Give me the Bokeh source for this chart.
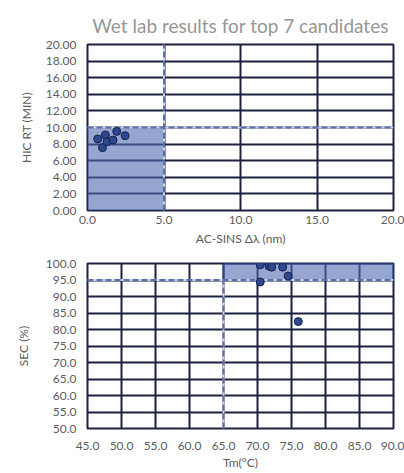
from bokeh.plotting import figure
from bokeh.models import FixedTicker, NumeralTickFormatter, Range1d
from bokeh.layouts import column
from bokeh.embed import file_html
from bokeh.resources import INLINE

# ---- data ----
acsins = [0.67, 1.17, 0.98, 1.28, 1.67, 1.91, 2.46]
hic = [8.62, 9.10, 7.57, 8.29, 8.49, 9.53, 9.01]
tm = [70.4, 71.7, 72.1, 73.7, 74.5, 70.4, 76.0]
sec = [99.6, 99.2, 98.9, 98.9, 96.2, 94.4, 82.4]

acsins_ticks = [0, 5, 10, 15, 20]
hic_ticks = [0, 2, 4, 6, 8, 10, 12, 14, 16, 18, 20]
tm_ticks = [45, 50, 55, 60, 65, 70, 75, 80, 85, 90]
sec_ticks = [50, 55, 60, 65, 70, 75, 80, 85, 90, 95, 100]

acsins_limit = 5
hic_limit = 10
tm_limit = 65
sec_limit = 95

title_text = "Wet lab results for top 7 candidates"

GRID = "#1c2140"
FILL = "#506ab0"
DASH = "#5b6fae"
GAP = "#d6d8e0"
PT_FILL = "#2e4890"
PT_LINE = "#18214a"
TXT = "#5c5c5c"
FONT = "Lato"


def style(p, xt, yt, xfmt, yfmt, xstand, ystand, ylstand):
    p.outline_line_color = GRID
    p.outline_line_width = 2
    p.xgrid.ticker = FixedTicker(ticks=xt)
    p.ygrid.ticker = FixedTicker(ticks=yt)
    for g in (p.xgrid, p.ygrid):
        g.grid_line_color = GRID
        g.grid_line_width = 2
        g.grid_line_alpha = 1
    p.xaxis.ticker = FixedTicker(ticks=xt)
    p.yaxis.ticker = FixedTicker(ticks=yt)
    p.xaxis.formatter = NumeralTickFormatter(format=xfmt)
    p.yaxis.formatter = NumeralTickFormatter(format=yfmt)
    for ax in (p.xaxis, p.yaxis):
        ax.axis_line_color = None
        ax.major_tick_line_color = None
        ax.minor_tick_line_color = None
        ax.major_tick_out = 0
        ax.major_tick_in = 0
        ax.minor_tick_out = 0
        ax.major_label_text_font = FONT
        ax.major_label_text_font_size = "12px"
        ax.major_label_text_color = TXT
        ax.axis_label_text_font = FONT
        ax.axis_label_text_font_size = "12px"
        ax.axis_label_text_font_style = "normal"
        ax.axis_label_text_color = TXT
    p.xaxis.major_label_standoff = xstand
    p.yaxis.major_label_standoff = ystand
    p.yaxis.axis_label_standoff = ylstand
    p.background_fill_color = "white"
    p.border_fill_color = "white"


# ---- top chart ----
p1 = figure(width=404, height=248, output_backend="svg",
            toolbar_location=None, x_range=Range1d(0, 20), y_range=Range1d(0, 20),
            min_border_left=87, min_border_right=11, min_border_top=44,
            min_border_bottom=38, title=title_text)
p1.title.align = "center"
p1.title.text_font = FONT
p1.title.text_font_size = "19px"
p1.title.text_font_style = "normal"
p1.title.text_color = "#979797"
p1.title.standoff = 15
style(p1, acsins_ticks, hic_ticks, "0.0", "0.00", 5, 11, 9)
p1.xaxis.axis_label = "AC-SINS Δλ (nm)"
p1.yaxis.axis_label = "HIC RT (MIN)"
p1.xaxis.axis_label_standoff = 4

x0, x1 = p1.x_range.start, p1.x_range.end
y0, y1 = p1.y_range.start, p1.y_range.end
p1.quad(left=[x0], right=[acsins_limit], bottom=[y0], top=[hic_limit],
        fill_color=FILL, fill_alpha=0.6, line_color=None)
for lw, col, dash in ((2, GAP, "solid"), (2, DASH, "6 3")):
    p1.segment(x0=[acsins_limit, x0], y0=[y0, hic_limit],
               x1=[acsins_limit, x1], y1=[y1, hic_limit],
               line_color=col, line_width=lw, line_dash=dash)
p1.scatter(acsins, hic, size=8, fill_color=PT_FILL, line_color=PT_LINE, line_width=1)

# ---- bottom chart ----
p2 = figure(width=404, height=224, output_backend="svg",
            toolbar_location=None, x_range=Range1d(45, 90), y_range=Range1d(50, 100),
            min_border_left=87, min_border_right=11, min_border_top=15,
            min_border_bottom=43)
style(p2, tm_ticks, sec_ticks, "0.0", "0.0", 13, 11, 12)
p2.xaxis.axis_label = "Tm(°C)"
p2.yaxis.axis_label = "SEC (%)"
p2.xaxis.axis_label_standoff = 2

a0, a1 = p2.x_range.start, p2.x_range.end
b0, b1 = p2.y_range.start, p2.y_range.end
p2.quad(left=[tm_limit], right=[a1], bottom=[sec_limit], top=[b1],
        fill_color=FILL, fill_alpha=0.6, line_color="#2f4590", line_width=2)
for lw, col, dash in ((2, GAP, "solid"), (2, DASH, "6 3")):
    p2.segment(x0=[tm_limit, a0], y0=[b0, sec_limit],
               x1=[tm_limit, a1], y1=[sec_limit, sec_limit],
               line_color=col, line_width=lw, line_dash=dash)
p2.scatter(tm, sec, size=8, fill_color=PT_FILL, line_color=PT_LINE, line_width=1)

layout = column(p1, p2, spacing=0)
open("out.html", "w").write(file_html(layout, INLINE))
